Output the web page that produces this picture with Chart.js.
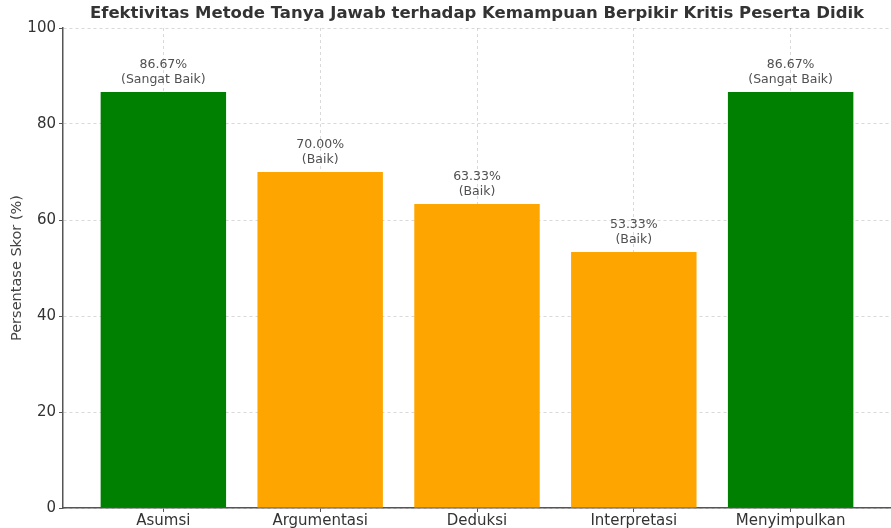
<!DOCTYPE html>
<html>
<head>
<meta charset="utf-8">
<script src="https://cdn.jsdelivr.net/npm/chart.js@4/dist/chart.umd.min.js"></script>
<style>
  html, body { margin: 0; padding: 0; background: #fff; }
  #wrap { width: 891px; height: 528px; }
</style>
</head>
<body>
<div id="wrap"><canvas id="scoreChart" width="891" height="528"></canvas></div>
<script>
const categories = ['Asumsi', 'Argumentasi', 'Deduksi', 'Interpretasi', 'Menyimpulkan'];
const scores = [86.67, 70.00, 63.33, 53.33, 86.67];
const grades = ['Sangat Baik', 'Baik', 'Baik', 'Baik', 'Sangat Baik'];
const yTicks = [0, 20, 40, 60, 80, 100];

const titleText = 'Efektivitas Metode Tanya Jawab terhadap Kemampuan Berpikir Kritis Peserta Didik';
const gradeColors = { 'Sangat Baik': '#008000', 'Baik': '#FFA500' };
const fontFamily = '"DejaVu Sans", sans-serif';

// title centred on the plot area, like matplotlib does
const plotTitle = {
    id: 'plotTitle',
    afterDraw(chart) {
        const { ctx, chartArea } = chart;
        ctx.save();
        ctx.font = 'bold 16.5px ' + fontFamily;
        ctx.fillStyle = '#333';
        ctx.textAlign = 'center';
        ctx.textBaseline = 'middle';
        ctx.fillText(titleText, (chartArea.left + chartArea.right) / 2, 14);
        ctx.restore();
    }
};

// value + grade text above each bar
const barLabels = {
    id: 'barLabels',
    afterDatasetsDraw(chart) {
        const { ctx } = chart;
        const meta = chart.getDatasetMeta(0);
        ctx.save();
        ctx.font = '12.5px ' + fontFamily;
        ctx.fillStyle = '#505050';
        ctx.textAlign = 'center';
        ctx.textBaseline = 'middle';
        meta.data.forEach((bar, i) => {
            ctx.fillText(scores[i].toFixed(2) + '%', bar.x, bar.y - 27);
            ctx.fillText('(' + grades[i] + ')', bar.x, bar.y - 12);
        });
        ctx.restore();
    }
};

new Chart(document.getElementById('scoreChart'), {
    type: 'bar',
    data: {
        datasets: [{
            data: scores.map((v, i) => ({ x: i, y: v })),
            backgroundColor: grades.map(g => gradeColors[g]),
            borderWidth: 0,
            categoryPercentage: 1,
            barPercentage: 0.8
        }]
    },
    options: {
        responsive: false,
        animation: false,
        layout: { padding: { top: 28, right: 0, left: 0, bottom: 0 } },
        plugins: {
            legend: { display: false },
            tooltip: { enabled: false }
        },
        scales: {
            x: {
                type: 'linear',
                min: -0.64,
                max: 4.64,
                offset: false,
                z: 1,
                afterBuildTicks: axis => { axis.ticks = categories.map((c, i) => ({ value: i })); },
                afterFit: axis => { axis.height = 20; },
                ticks: {
                    callback: v => categories[v],
                    color: '#333',
                    font: { family: fontFamily, size: 15 },
                    padding: 0,
                    maxRotation: 0
                },
                grid: { offset: false, color: 'rgba(0,0,0,0.15)', tickLength: 4, tickColor: '#555' },
                border: { color: '#555', width: 1.5, dash: [3, 3] }
            },
            y: {
                min: 0,
                max: 100,
                z: 1,
                afterBuildTicks: axis => { axis.ticks = yTicks.map(v => ({ value: v })); },
                afterFit: axis => { axis.width = 63; },
                ticks: {
                    color: '#333',
                    font: { family: fontFamily, size: 15 },
                    padding: 3
                },
                grid: { color: 'rgba(0,0,0,0.15)', tickLength: 4, tickColor: '#555' },
                border: { color: '#555', width: 1.5, dash: [3, 3] },
                title: {
                    display: true,
                    text: 'Persentase Skor (%)',
                    color: '#444',
                    font: { family: fontFamily, size: 14.5 },
                    padding: { top: 9, bottom: 0 }
                }
            }
        }
    },
    plugins: [plotTitle, barLabels]
});
</script>
</body>
</html>
